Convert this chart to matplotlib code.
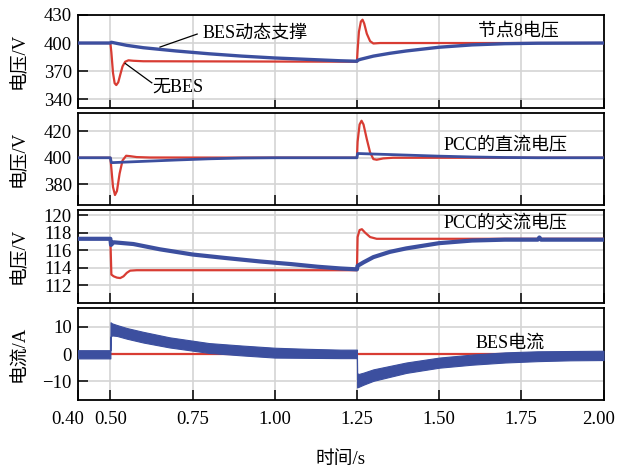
import numpy as np
import matplotlib
matplotlib.use("Agg")
import matplotlib.pyplot as plt
import matplotlib.transforms as mtransforms

plt.rcParams['font.family'] = ['Liberation Serif', 'Noto Sans CJK SC', 'DejaVu Sans']
plt.rcParams['axes.unicode_minus'] = True

RED = '#d83c33'
BLUE = '#3c4f9f'

# panel 1: node 8 voltage
t_v8_red = [0.40, 0.50, 0.503, 0.508, 0.513, 0.518, 0.524, 0.530, 0.537, 0.545, 0.555, 0.57, 0.60,
            1.25, 1.252, 1.256, 1.262, 1.267, 1.272, 1.280, 1.290, 1.300, 1.32, 2.00]
v8_red = [400, 400, 390, 368, 357, 355, 358, 366, 375, 380, 381.5, 381, 380.5,
          380, 392, 412, 423, 425, 421, 410, 402, 399.5, 400, 400]
t_v8_blue = [0.40, 0.50, 0.503, 0.55, 0.60, 0.70, 0.80, 0.90, 1.00, 1.10, 1.20, 1.25,
             1.252, 1.26, 1.30, 1.35, 1.40, 1.50, 1.60, 1.70, 1.80, 2.00]
v8_blue = [400, 400, 400.8, 397.5, 395, 391.5, 388.5, 386, 384, 382.5, 381, 380.5,
           381.5, 382.5, 386, 389, 391.5, 395.5, 398, 399.3, 399.8, 400]

# panel 2: PCC dc voltage
t_dc_red = [0.40, 0.50, 0.503, 0.508, 0.514, 0.520, 0.528, 0.537, 0.548, 0.56, 0.58, 0.62,
            1.25, 1.252, 1.258, 1.264, 1.270, 1.280, 1.290, 1.300, 1.31, 1.33, 1.36, 2.00]
dc_red = [400, 400, 392, 378, 372, 375, 388, 398, 401.5, 401.2, 400.5, 400.2,
          400, 412, 425, 427.8, 425, 414, 404, 399, 398.5, 399.5, 400, 400]
t_dc_blue = [0.40, 0.50, 0.503, 0.60, 0.70, 0.80, 0.90, 1.00, 1.25,
             1.252, 1.30, 1.40, 1.50, 1.60, 1.70, 1.80, 2.00]
dc_blue = [400, 400, 396.3, 397.3, 398.3, 399.2, 399.8, 400, 400,
           403.2, 402.8, 402, 401.2, 400.6, 400.2, 400, 400]

# panel 3: PCC ac voltage
t_ac_red = [0.40, 0.50, 0.503, 0.51, 0.52, 0.53, 0.54, 0.55, 0.56, 0.58,
            1.25, 1.252, 1.258, 1.265, 1.275, 1.29, 1.31, 2.00]
ac_red = [117.3, 117.3, 113.2, 113.0, 112.85, 112.8, 113.0, 113.4, 113.65, 113.7,
          113.7, 117.5, 118.3, 118.4, 118.0, 117.5, 117.3, 117.3]
t_ac_blue = [0.40, 0.50, 0.502, 0.51, 0.57, 0.65, 0.75, 0.85, 0.956, 1.05, 1.13, 1.20, 1.25,
             1.252, 1.27, 1.30, 1.35, 1.40, 1.50, 1.60, 1.70, 1.80, 1.805, 1.81, 2.00]
ac_blue = [117.3, 117.3, 116.6, 116.9, 116.7, 116.1, 115.5, 115.1, 114.7, 114.4, 114.1, 113.9, 113.8,
           114.2, 114.6, 115.2, 115.8, 116.2, 116.8, 117.1, 117.2, 117.2, 117.45, 117.2, 117.2]

# panel 4: BES current (red flat, blue drawn as a noisy band: upper / lower envelope)
t_i_red = [0.40, 2.00]
i_red = [0, 0]
t_i_blue = [0.40, 0.50, 0.5005, 0.505, 0.52, 0.55, 0.60, 0.68, 0.80, 0.90, 1.00, 1.10, 1.20, 1.25,
            1.2505, 1.255, 1.27, 1.30, 1.40, 1.50, 1.60, 1.70, 1.80, 1.90, 2.00]
i_blue_hi = [1.4, 1.4, 11.6, 11.2, 10.6, 9.5, 8.1, 6.1, 4.0, 3.1, 2.3, 1.9, 1.6, 1.6,
             -7.0, -7.3, -6.8, -5.6, -3.1, -1.3, -0.2, 0.6, 1.0, 1.1, 1.2]
i_blue_lo = [-1.6, -1.6, 6.3, 6.8, 6.6, 5.6, 4.2, 2.4, 0.4, -0.5, -1.3, -1.4, -1.5, -1.5,
             -12.2, -12.0, -11.2, -9.8, -6.9, -5.0, -3.9, -3.1, -2.6, -2.3, -2.2]

xticks = [0.40, 0.50, 0.75, 1.00, 1.25, 1.50, 1.75, 2.00]
xticklabels = ['0.40', '0.50', '0.75', '1.00', '1.25', '1.50', '1.75', '2.00']

W, H = 626, 467
fig = plt.figure(figsize=(W / 100, H / 100), dpi=100)

left, width = 77.5 / W, 526 / W
tops = [15, 112.5, 210, 307.5]
ph = 92.5

panels = [
    dict(tr=t_v8_red, r=v8_red, tb=t_v8_blue, b=v8_blue, lw_b=2.4, ylim=(331, 430),
         yticks=[340, 370, 400, 430], ylabel='电压/V', title='节点8电压', tpos=(1.618, 411.8)),
    dict(tr=t_dc_red, r=dc_red, tb=t_dc_blue, b=dc_blue, lw_b=2.0, ylim=(364.5, 434),
         yticks=[380, 400, 420], ylabel='电压/V', title='PCC的直流电压', tpos=(1.514, 409)),
    dict(tr=t_ac_red, r=ac_red, tb=t_ac_blue, b=ac_blue, lw_b=3.0, ylim=(110, 120.6),
         yticks=[112, 114, 116, 118, 120], ylabel='电压/V', title='PCC的交流电压', tpos=(1.514, 119.1)),
    dict(tr=t_i_red, r=i_red, tb=None, b=None, lw_b=0, ylim=(-16.8, 17),
         yticks=[-10, 0, 10], ylabel='电流/A', title='BES电流', tpos=(1.612, 3.8)),
]

axes = []
for k, p in enumerate(panels):
    bottom = 1 - (tops[k] + ph) / H
    ax = fig.add_axes([left, bottom, width, ph / H])
    axes.append(ax)
    ax.plot(p['tr'], p['r'], color=RED, lw=1.6, zorder=3)
    if p['tb'] is not None:
        ax.plot(p['tb'], p['b'], color=BLUE, lw=p['lw_b'], zorder=4, solid_joinstyle='round')
    ax.set_xlim(0.4, 2.0)
    ax.set_ylim(*p['ylim'])
    ax.set_xticks(xticks)
    ax.set_yticks(p['yticks'])
    ax.grid(True, color='#d4d4d4', lw=1.2, zorder=0)
    ax.set_axisbelow(True)
    ax.tick_params(direction='in', length=7, width=1.1, labelsize=13.5, color='black',
                   top=False, right=False)
    ax.tick_params(axis='y', pad=4)
    ax.tick_params(axis='x', pad=8)
    for s in ax.spines.values():
        s.set_linewidth(1.3)
    ax.set_ylabel(p['ylabel'], fontsize=13.5)
    ax.yaxis.set_label_coords(-0.094, 0.5)
    ax.text(p['tpos'][0], p['tpos'][1], p['title'], fontsize=13, ha='left', va='center', zorder=6)
    if k < 3:
        ax.set_xticklabels([])
    else:
        ax.set_xticklabels(xticklabels)

# BES current band
axes[3].fill_between(t_i_blue, i_blue_lo, i_blue_hi, color=BLUE, lw=0.8, edgecolor=BLUE, zorder=4)

# edge tick labels shifted inward like the original
labels = axes[3].get_xticklabels()
labels[0].set_transform(labels[0].get_transform() +
                        mtransforms.ScaledTranslation(-10 / 100, 0, fig.dpi_scale_trans))
labels[-1].set_transform(labels[-1].get_transform() +
                         mtransforms.ScaledTranslation(-5 / 100, 0, fig.dpi_scale_trans))

axes[3].set_xlabel('时间/s', fontsize=13.5)
axes[3].xaxis.set_label_coords(0.5, -0.55)

# annotations in the first panel
ax0 = axes[0]
ax0.text(0.78, 410.7, 'BES动态支撑', fontsize=13, ha='left', va='center', zorder=6)
ax0.plot([0.651, 0.764], [395.7, 409.6], color='black', lw=0.9, zorder=5)
ax0.text(0.627, 352.8, '无BES', fontsize=13, ha='left', va='center', zorder=6)
ax0.plot([0.545, 0.626], [378.2, 357.4], color='black', lw=0.9, zorder=5)

fig.savefig('out.png', dpi=100)
